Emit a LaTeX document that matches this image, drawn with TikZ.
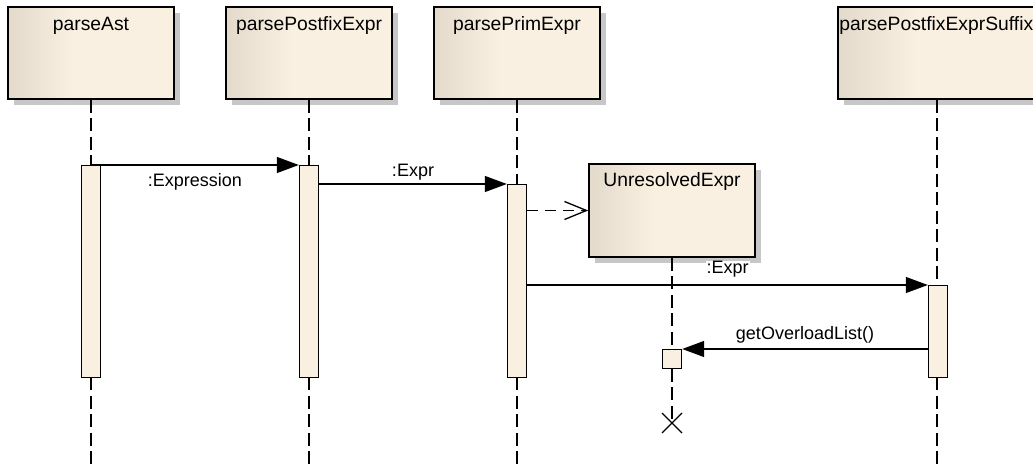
\documentclass[tikz,border=0pt]{standalone}
\usepackage{fontspec}
\setmainfont{Liberation Sans}
\usetikzlibrary{arrows.meta,shadows,calc}

\definecolor{headleft}{HTML}{E3DACB}
\definecolor{headright}{HTML}{FAF0E2}
\definecolor{barfill}{HTML}{FAF0E2}
% light band on the left of each lifeline head
\pgfdeclarehorizontalshading{headshade}{100bp}{color(0bp)=(headleft); color(25bp)=(headleft); color(45bp)=(headright); color(100bp)=(headright)}

\tikzset{
	head/.style={draw, line width=1.6pt, shade, shading=headshade,
			minimum width=166pt, minimum height=92pt, inner sep=0pt,
			drop shadow={shadow xshift=6pt, shadow yshift=-6pt, fill=black!22, opacity=1}},
	headname/.style={anchor=base, inner sep=0pt, font=\fontsize{19.3}{23}\selectfont},
	bar/.style={draw, line width=1.4pt, fill=barfill, minimum width=19pt, inner sep=0pt, anchor=north},
	lifeline/.style={line width=1.6pt, dash pattern=on 13pt off 5.5pt},
	call/.style={line width=1.3pt, -{Triangle[length=22pt,width=16pt]}},
	create/.style={line width=1.3pt, dash pattern=on 11pt off 7pt, -{Straight Barb[length=22pt,width=18pt]}},
	msgabove/.style={anchor=base, yshift=10pt, fill=white, inner sep=1pt},
	msgbelow/.style={anchor=base, yshift=-22pt, inner sep=1pt}
}

\begin{document}
\begin{tikzpicture}[x=1pt,y=-1pt,font=\fontsize{18}{22}\selectfont]
		\useasboundingbox (0,0) rectangle (1033,470);
		% lifeline heads
		\node[head] (ast) at (91,53) {};
		\node[head] (pfx) at (309,53) {};
		\node[head] (prim) at (517,53) {};
		\node[head, minimum width=198pt] (sfx) at (937,53) {};
		\node[headname] (astname) at ($(ast.north)+(0,24)$) {parseAst};
		\node[headname] (pfxname) at ($(pfx.north)+(0,24)$) {parsePostfixExpr};
		\node[headname] (primname) at ($(prim.north)+(0,24)$) {parsePrimExpr};
		\node[headname, anchor=base west] (sfxname) at ($(sfx.north west)+(2,24)$) {parsePostfixExprSuffix};
		\foreach \h in {ast,pfx,prim,sfx}
			\draw[lifeline] (\h.south) -- (\h.south |- 0,470);
		% activations
		\node[bar, minimum height=212pt] (astbar) at (91,165) {};
		\node[bar, minimum height=212pt] (pfxbar) at (309,165) {};
		\node[bar, minimum height=193pt] (primbar) at (517,184) {};
		\node[bar, minimum height=92pt] (sfxbar) at (938,285) {};
		% object created by parsePrimExpr
		\node[head, minimum height=93pt] (unres) at (672,210.5) {};
		\node[headname] (unresname) at ($(unres.north)+(0,23)$) {UnresolvedExpr};
		\coordinate (kill) at (672,423);
		\draw[lifeline] (unres.south) -- (kill);
		\node[bar, minimum height=19pt] (unresbar) at (672,349) {};
		\draw[line width=1.3pt] ($(kill)+(-10,-10)$) -- ($(kill)+(10,10)$)
			($(kill)+(-10,10)$) -- ($(kill)+(10,-10)$);
		% messages
		\draw[call] (astbar.north) -- node[msgbelow] {:Expression} (pfxbar.north west);
		\draw[call] (pfxbar.east |- primbar.north) -- node[msgabove, yshift=-2.5pt] {:Expr} (primbar.north west);
		\draw[create] (primbar.east |- unres.west) -- (unres.west);
		\draw[call] (primbar.east |- sfxbar.north) -- node[msgabove, yshift=1pt] {:Expr} (sfxbar.north west);
		\draw[call] (sfxbar.west |- unresbar.north) -- node[msgabove] {getOverloadList()} (unresbar.north east);
	\end{tikzpicture}
\end{document}
